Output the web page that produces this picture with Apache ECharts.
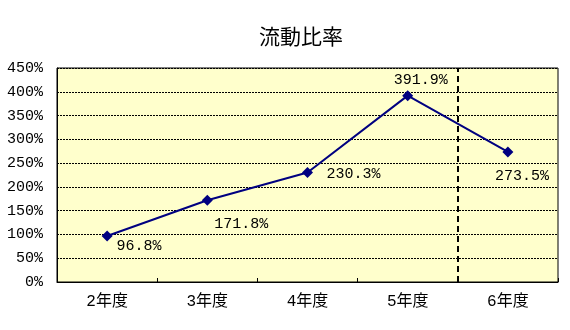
<!DOCTYPE html>
<html><head><meta charset="utf-8">
<script src="https://cdn.jsdelivr.net/npm/echarts@6/dist/echarts.min.js"></script>
<style>html,body{margin:0;padding:0;background:#fff}#c{width:570px;height:330px}</style>
</head><body><div id="c"></div>
<script>
const title = '流動比率';
const categories = ['2年度', '3年度', '4年度', '5年度', '6年度'];
const values = [96.8, 171.8, 230.3, 391.9, 273.5];
const yTicks = [0, 50, 100, 150, 200, 250, 300, 350, 400, 450];
const dividerAt = 4; // boundary between 5年度 and 6年度

const FONT = '"Liberation Mono", "Noto Sans CJK JP", monospace';
const labelOffsets = [[32, 10], [34, 24], [46, 2], [13, -16], [14, 24]];

const chart = echarts.init(document.getElementById('c'));
chart.setOption({
  animation: false,
  backgroundColor: '#ffffff',
  title: {
    text: title, left: 296, textAlign: 'center', top: 21,
    textStyle: { fontFamily: '"Noto Sans CJK JP"', fontSize: 21, fontWeight: 'normal', color: '#000' }
  },
  grid: { left: 57, right: 12, top: 68, bottom: 48, show: true, backgroundColor: '#FFFFCC', borderColor: '#000', borderWidth: 1 },
  xAxis: [{
    type: 'category', data: categories, boundaryGap: true,
    axisLine: { lineStyle: { color: '#000', width: 1 } },
    axisTick: { show: true, inside: true, length: 4, lineStyle: { color: '#000' } },
    axisLabel: { fontFamily: FONT, fontSize: 16, color: '#000', margin: 12 },
    splitLine: { show: false }
  }, {
    type: 'value', min: 0, max: categories.length, show: false,
    position: 'bottom'
  }],
  yAxis: {
    type: 'value', min: yTicks[0], max: yTicks[yTicks.length - 1], interval: 50,
    axisLine: { show: true, lineStyle: { color: '#000' } },
    axisTick: { show: false },
    axisLabel: { formatter: '{value}%', fontFamily: FONT, fontSize: 15, color: '#000', margin: 14 },
    splitLine: { show: true, lineStyle: { color: '#000', type: [2, 1], width: 1 } }
  },
  series: [{
    type: 'line', data: values.map((v, i) => ({
      value: v,
      label: { offset: labelOffsets[i] }
    })),
    xAxisIndex: 0,
    symbol: 'diamond', symbolSize: 11,
    lineStyle: { color: '#000080', width: 2 },
    itemStyle: { color: '#000080' },
    label: {
      show: true, position: 'inside', formatter: p => p.value.toFixed(1) + '%',
      fontFamily: FONT, fontSize: 15, color: '#000'
    }
  }, {
    type: 'line', xAxisIndex: 1, data: [],
    markLine: {
      silent: true, symbol: ['none', 'none'], label: { show: false },
      lineStyle: { color: '#000', type: [6, 4], width: 2 },
      data: [{ xAxis: dividerAt }]
    }
  }]
});
</script></body></html>
